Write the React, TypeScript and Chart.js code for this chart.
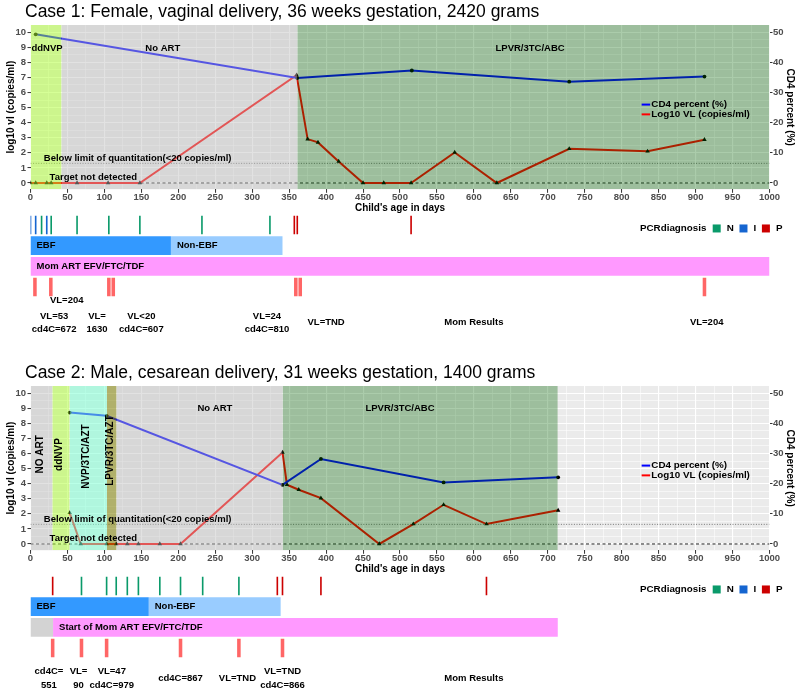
import React, { useEffect, useRef } from 'react';
import { Chart, registerables } from 'chart.js';

Chart.register(...registerables);

const FONT = '"Liberation Sans", Arial, Helvetica, sans-serif';
Chart.defaults.font.family = FONT;

// ---------- shared scales ----------
const X_MIN = 0;
const X_MAX = 1000;
const X_MINOR_STEP = 25;
const X_LABEL_STEP = 50;
const Y_MIN = -0.42;
const Y_MAX = 10.48;
const CD4_PER_LOG = 5;
const LOQ_LOG = Math.log10(20);
const LOQ_TEXT = 'Below limit of quantitation(<20 copies/ml)';
const TND_TEXT = 'Target not detected';
const TRACK_ROWS = ['PCR', 'Feeding', 'MomART', 'MomResult', 'Notes1', 'Notes2'];
const PCR_NAMES = ['N', 'I', 'P'];

// ---------- Case 1 ----------
const c1Title = 'Case 1: Female, vaginal delivery, 36 weeks gestation, 2420 grams';
const c1VlDays = [0, 7, 22, 28, 63, 105, 148, 360, 375, 389, 417, 450, 478, 515, 574, 631, 729, 835, 912];
const c1VlLog = [0, 0, 0, 0, 0, 0, 0, 7.15, 2.91, 2.69, 1.43, 0, 0, 0, 2.03, 0, 2.27, 2.1, 2.87];
const c1Cd4Days = [7, 361, 516, 729, 912];
const c1Cd4Pct = [49.3, 34.8, 37.3, 33.6, 35.3];
const c1RegionNames = ['ddNVP', 'No ART', 'LPVR/3TC/ABC'];
const c1RegionStart = [0, 42, 361];
const c1RegionEnd = [42, 361, 1000];
const c1PcrN = [15, 28, 63, 106, 148, 232, 324];
const c1PcrI = [0, 7, 22];
const c1PcrP = [357, 361, 515];
const c1FeedNames = ['EBF', 'Non-EBF'];
const c1FeedStart = [0, 190];
const c1FeedEnd = [190, 341];
const c1MomNames = ['Mom ART EFV/FTC/TDF'];
const c1MomStart = [0];
const c1MomEnd = [1000];
const c1MomResultDays = [6, 27.5, 106, 112, 359, 365, 912];
const c1NoteDays = [32, 90, 150, 320, 400, 600, 915];
const c1NoteText = [['VL=53', 'cd4C=672'], ['VL=', '1630'], ['VL<20', 'cd4C=607'], ['VL=24', 'cd4C=810'], ['VL=TND'], ['Mom Results'], ['VL=204']];
const c1UpperNoteDays = [49];
const c1UpperNoteText = ['VL=204'];

// ---------- Case 2 ----------
const c2Title = 'Case 2: Male, cesarean delivery, 31 weeks gestation, 1400 grams';
const c2VlDays = [53, 68, 103, 116, 131, 146, 175, 203, 341, 347, 363, 393, 472, 518, 559, 617, 714];
const c2VlLog = [2.07, 0, 0, 0, 0, 0, 0, 0, 6.07, 3.93, 3.6, 3.04, 0, 1.32, 2.6, 1.32, 2.23];
const c2Cd4Days = [53, 103, 341, 393, 559, 714];
const c2Cd4Pct = [43.6, 42.5, 19.6, 28.2, 20.4, 22.1];
const c2RegionNames = ['NO ART', 'ddNVP', 'NVP/3TC/AZT', 'LPVR/3TC/AZT', 'No ART', 'LPVR/3TC/ABC'];
const c2RegionStart = [0, 29.5, 53, 103.5, 116.5, 341];
const c2RegionEnd = [29.5, 53, 103.5, 116.5, 341, 713.5];
const c2PcrN = [69, 103, 116, 131, 146, 175, 203, 233, 282];
const c2PcrI: number[] = [];
const c2PcrP = [30, 334, 341, 393, 617];
const c2FeedNames = ['EBF', 'Non-EBF'];
const c2FeedStart = [0, 160];
const c2FeedEnd = [160, 338.5];
const c2MomNames = ['', 'Start of Mom ART EFV/FTC/TDF'];
const c2MomStart = [0, 30.5];
const c2MomEnd = [30.5, 713.5];
const c2MomResultDays = [30, 69, 103, 203, 282, 341];
const c2NoteDays = [25, 65, 110, 203, 280, 341, 600];
const c2NoteText = [['cd4C=', '551'], ['VL=', '90'], ['VL=47', 'cd4C=979'], ['cd4C=867'], ['VL=TND'], ['VL=TND', 'cd4C=866'], ['Mom Results']];
const c2UpperNoteDays: number[] = [];
const c2UpperNoteText: string[] = [];

// ---------- styles / layout (not data) ----------
const REGION_FILL: Record<string, string> = {
  'ddNVP': 'rgba(173,255,47,0.5)',
  'No ART': 'rgba(190,190,190,0.45)',
  'NO ART': 'rgba(190,190,190,0.45)',
  'NVP/3TC/AZT': 'rgba(127,255,212,0.55)',
  'LPVR/3TC/AZT': 'rgba(128,128,0,0.55)',
  'LPVR/3TC/ABC': 'rgba(0,100,0,0.33)',
};
const PCR_COLORS: Record<string, string> = { N: '#0A9A6A', I: '#1565D0', P: '#CC0000' };
const FEED_COLORS = ['#3399FF', '#99CCFF'];
const MOM_ART_COLOR = '#FF99FF';
const MOM_PRE_COLOR = '#D3D3D3';
const MOM_RESULT_COLOR = '#FF6666';

const case1Layout = {
  regionLabelDay: [22.3, 179, 676],
  regionLabelLevel: [8.94, 8.94, 8.94],
  regionLabelVertical: [false, false, false],
  noteCenterRow: 4.72,
  upperNoteRow: 3.66,
};
const case2Layout = {
  regionLabelDay: [13.7, 38.7, 75.8, 107.4, 249.5, 500],
  regionLabelLevel: [5.95, 5.93, 5.8, 6.2, 9.0, 9.0],
  regionLabelVertical: [true, true, true, true, false, false],
  noteCenterRow: 4.46,
  upperNoteRow: 3.66,
};

const case1 = {
  title: c1Title, vlDays: c1VlDays, vlLog: c1VlLog, cd4Days: c1Cd4Days, cd4Pct: c1Cd4Pct,
  regionNames: c1RegionNames, regionStart: c1RegionStart, regionEnd: c1RegionEnd,
  pcr: { N: c1PcrN, I: c1PcrI, P: c1PcrP } as Record<string, number[]>,
  feedNames: c1FeedNames, feedStart: c1FeedStart, feedEnd: c1FeedEnd,
  momNames: c1MomNames, momStart: c1MomStart, momEnd: c1MomEnd,
  momResultDays: c1MomResultDays, noteDays: c1NoteDays, noteText: c1NoteText,
  upperNoteDays: c1UpperNoteDays, upperNoteText: c1UpperNoteText,
  layout: case1Layout,
};
const case2 = {
  title: c2Title, vlDays: c2VlDays, vlLog: c2VlLog, cd4Days: c2Cd4Days, cd4Pct: c2Cd4Pct,
  regionNames: c2RegionNames, regionStart: c2RegionStart, regionEnd: c2RegionEnd,
  pcr: { N: c2PcrN, I: c2PcrI, P: c2PcrP } as Record<string, number[]>,
  feedNames: c2FeedNames, feedStart: c2FeedStart, feedEnd: c2FeedEnd,
  momNames: c2MomNames, momStart: c2MomStart, momEnd: c2MomEnd,
  momResultDays: c2MomResultDays, noteDays: c2NoteDays, noteText: c2NoteText,
  upperNoteDays: c2UpperNoteDays, upperNoteText: c2UpperNoteText,
  layout: case2Layout,
};

const isInt = (v: number) => Math.abs(v - Math.round(v)) < 1e-6;
const isMajorX = (v: number) => Math.abs(v / X_LABEL_STEP - Math.round(v / X_LABEL_STEP)) < 1e-6;

function mainDecor(c: any) {
  return {
    id: 'mainDecor',
    beforeDraw(chart: any) {
      const { ctx, chartArea: a } = chart;
      ctx.save();
      ctx.fillStyle = '#EBEBEB';
      ctx.fillRect(a.left, a.top, a.right - a.left, a.bottom - a.top);
      ctx.restore();
    },
    afterDatasetsDraw(chart: any) {
      const { ctx } = chart;
      const xs = chart.scales.x;
      const ys = chart.scales.y;
      ctx.save();
      ctx.fillStyle = '#000';
      ctx.textBaseline = 'middle';
      ctx.textAlign = 'center';
      c.regionNames.forEach((name: string, i: number) => {
        const x = xs.getPixelForValue(c.layout.regionLabelDay[i]);
        const y = ys.getPixelForValue(c.layout.regionLabelLevel[i]);
        if (c.layout.regionLabelVertical[i]) {
          ctx.font = `bold 10px ${FONT}`;
          ctx.save();
          ctx.translate(x, y);
          ctx.rotate(-Math.PI / 2);
          ctx.fillText(name, 0, 0);
          ctx.restore();
        } else {
          ctx.font = `bold 9.5px ${FONT}`;
          ctx.fillText(name, x, y);
        }
      });
      ctx.font = `bold 9.5px ${FONT}`;
      ctx.fillText(LOQ_TEXT, xs.getPixelForValue(145), ys.getPixelForValue(1.62));
      ctx.fillText(TND_TEXT, xs.getPixelForValue(85), ys.getPixelForValue(0.37));
      // legend
      const keys = [
        { text: 'CD4 percent (%)', color: '#0000FF', level: 5.2 },
        { text: 'Log10 VL (copies/ml)', color: '#FF0000', level: 4.55 },
      ];
      const kx1 = xs.getPixelForValue(827);
      const kx2 = xs.getPixelForValue(838.5);
      ctx.font = `bold 9.8px ${FONT}`;
      ctx.textAlign = 'left';
      keys.forEach((k) => {
        const y = ys.getPixelForValue(k.level);
        ctx.strokeStyle = k.color;
        ctx.lineWidth = 2;
        ctx.beginPath();
        ctx.moveTo(kx1, y);
        ctx.lineTo(kx2, y);
        ctx.stroke();
        ctx.fillStyle = '#000';
        ctx.fillText(k.text, kx2 + 1.2, y);
      });
      ctx.restore();
    },
    afterDraw(chart: any) {
      const { ctx } = chart;
      ctx.save();
      ctx.fillStyle = '#000';
      ctx.font = `17.5px ${FONT}`;
      ctx.textAlign = 'left';
      ctx.textBaseline = 'alphabetic';
      ctx.fillText(c.title, 25, 16.8);
      ctx.restore();
    },
  };
}

function mainConfig(c: any) {
  const regionSets = c.regionNames.map((name: string, i: number) => ({
    type: 'line',
    label: name,
    data: [{ x: c.regionStart[i], y: Y_MAX }, { x: c.regionEnd[i], y: Y_MAX }],
    yAxisID: 'y',
    borderColor: 'rgba(0,0,0,0)',
    borderWidth: 0,
    pointRadius: 0,
    fill: { value: Y_MIN },
    backgroundColor: REGION_FILL[name],
    order: 0,
  }));
  const datasets = [
    ...regionSets,
    {
      type: 'line',
      label: 'CD4 percent (%)',
      data: c.cd4Days.map((d: number, i: number) => ({ x: d, y: c.cd4Pct[i] })),
      yAxisID: 'y2',
      borderColor: '#0000FF',
      borderWidth: 2,
      pointStyle: 'circle',
      pointRadius: 1.9,
      pointBackgroundColor: '#000',
      pointBorderWidth: 0,
      fill: false,
      order: 1,
    },
    {
      type: 'line',
      label: 'Log10 VL (copies/ml)',
      data: c.vlDays.map((d: number, i: number) => ({ x: d, y: c.vlLog[i] })),
      yAxisID: 'y',
      borderColor: '#FF0000',
      borderWidth: 2,
      pointStyle: 'triangle',
      pointRadius: 2.6,
      pointBackgroundColor: '#000',
      pointBorderWidth: 0,
      fill: false,
      order: 2,
    },
    {
      type: 'line',
      label: 'LOQ',
      data: [{ x: X_MIN, y: LOQ_LOG }, { x: X_MAX, y: LOQ_LOG }],
      yAxisID: 'y',
      borderColor: '#555555',
      borderWidth: 0.8,
      borderDash: [1, 1.6],
      pointRadius: 0,
      fill: false,
      order: 3,
    },
    {
      type: 'line',
      label: 'TND',
      data: [{ x: X_MIN, y: 0 }, { x: X_MAX, y: 0 }],
      yAxisID: 'y',
      borderColor: '#222222',
      borderWidth: 1,
      borderDash: [3, 2.5],
      pointRadius: 0,
      fill: false,
      order: 4,
    },
  ];
  return {
    type: 'line',
    data: { datasets },
    options: {
      responsive: false,
      animation: false,
      events: [],
      layout: { padding: { top: 25, left: 0, right: 0, bottom: 0 }, autoPadding: false },
      plugins: { legend: { display: false }, tooltip: { enabled: false }, title: { display: false } },
      scales: {
        x: {
          type: 'linear',
          position: 'bottom',
          min: X_MIN,
          max: X_MAX,
          afterFit: (s: any) => { s.height = 25.7; },
          border: { display: false },
          ticks: {
            stepSize: X_MINOR_STEP,
            autoSkip: false,
            includeBounds: false,
            maxRotation: 0,
            minRotation: 0,
            padding: 0,
            color: '#4D4D4D',
            font: { size: 9.5, weight: 'bold', lineHeight: 1 },
            callback: (v: any) => (isMajorX(Number(v)) ? String(v) : ''),
          },
          grid: {
            color: '#FFFFFF',
            lineWidth: (ctx: any) => (ctx.tick && isMajorX(ctx.tick.value) ? 1.1 : 0.55),
            tickLength: 3.5,
            tickWidth: 1,
            tickColor: (ctx: any) => (ctx.tick && isMajorX(ctx.tick.value) ? '#333333' : 'rgba(0,0,0,0)'),
          },
          title: {
            display: true,
            text: "Child's age in days",
            color: '#000',
            font: { size: 10, weight: 'bold' },
            padding: { top: 0, bottom: 1 },
          },
        },
        y: {
          type: 'linear',
          position: 'left',
          min: Y_MIN,
          max: Y_MAX,
          afterFit: (s: any) => { s.width = 30.5; },
          border: { display: false },
          ticks: {
            stepSize: 0.5,
            autoSkip: false,
            includeBounds: false,
            padding: 1.5,
            color: '#4D4D4D',
            font: { size: 9.5, weight: 'bold' },
            callback: (v: any) => (isInt(Number(v)) ? String(Math.round(Number(v))) : ''),
          },
          grid: {
            color: '#FFFFFF',
            lineWidth: (ctx: any) => (ctx.tick && isInt(ctx.tick.value) ? 1.1 : 0.55),
            tickLength: 3,
            tickWidth: 1,
            tickColor: (ctx: any) => (ctx.tick && isInt(ctx.tick.value) ? '#333333' : 'rgba(0,0,0,0)'),
          },
          title: {
            display: true,
            text: 'log10 vl (copies/ml)',
            color: '#000',
            font: { size: 10, weight: 'bold' },
            padding: { top: 5.7, bottom: 0 },
          },
        },
        y2: {
          type: 'linear',
          position: 'right',
          min: Y_MIN * CD4_PER_LOG,
          max: Y_MAX * CD4_PER_LOG,
          afterFit: (s: any) => { s.width = 30.5; },
          border: { display: false },
          ticks: {
            stepSize: 10,
            autoSkip: false,
            includeBounds: false,
            padding: 0.5,
            color: '#4D4D4D',
            font: { size: 9.5, weight: 'bold' },
          },
          grid: { drawOnChartArea: false, drawTicks: true, tickLength: 3, tickWidth: 1, tickColor: '#333333' },
          title: {
            display: true,
            text: 'CD4 percent (%)',
            color: '#000',
            font: { size: 10, weight: 'bold' },
            padding: { top: 4.5, bottom: 0 },
          },
        },
      },
    },
    plugins: [mainDecor(c)],
  };
}

const PCR_HALF = 1.1;
const RESULT_HALF = 2.4;

function trackDecor(c: any) {
  return {
    id: 'trackDecor',
    afterDatasetsDraw(chart: any) {
      const { ctx, chartArea: a } = chart;
      const xs = chart.scales.x;
      const ys = chart.scales.y;
      ctx.save();
      ctx.fillStyle = '#000';
      ctx.textBaseline = 'middle';
      ctx.font = `bold 9.5px ${FONT}`;
      ctx.textAlign = 'left';
      c.feedNames.forEach((n: string, i: number) => {
        ctx.fillText(n, xs.getPixelForValue(c.feedStart[i]) + 6, ys.getPixelForValue(1));
      });
      c.momNames.forEach((n: string, i: number) => {
        if (n) ctx.fillText(n, xs.getPixelForValue(c.momStart[i]) + 6, ys.getPixelForValue(2));
      });
      ctx.textAlign = 'center';
      const yc = ys.getPixelForValue(c.layout.noteCenterRow);
      c.noteText.forEach((lines: string[], i: number) => {
        const x = xs.getPixelForValue(c.noteDays[i]);
        lines.forEach((t, j) => ctx.fillText(t, x, yc + (j - (lines.length - 1) / 2) * 13.3));
      });
      const yu = ys.getPixelForValue(c.layout.upperNoteRow);
      c.upperNoteText.forEach((t: string, i: number) => {
        ctx.fillText(t, xs.getPixelForValue(c.upperNoteDays[i]), yu);
      });
      // PCR legend
      const ly = ys.getPixelForValue(0.17);
      ctx.font = `bold 9.8px ${FONT}`;
      ctx.textAlign = 'left';
      ctx.fillText('PCRdiagnosis', a.right - 129.5, ly);
      let x = a.right - 56.8;
      PCR_NAMES.forEach((n) => {
        ctx.fillStyle = PCR_COLORS[n];
        ctx.fillRect(x, ly - 4, 8, 8);
        ctx.fillStyle = '#000';
        ctx.fillText(n, x + 14, ly);
        x = x + 14 + ctx.measureText(n).width + 5.7;
      });
      ctx.restore();
    },
  };
}

function trackConfig(c: any) {
  const bar = (label: string, row: string, spans: number[][], color: string) => ({
    label,
    data: spans.map((s) => ({ x: s, y: row })),
    backgroundColor: color,
    borderWidth: 0,
    grouped: false,
    barPercentage: 0.9,
    categoryPercentage: 1,
  });
  const datasets: any[] = [];
  PCR_NAMES.forEach((n) => {
    datasets.push(bar('PCR ' + n, 'PCR', c.pcr[n].map((d: number) => [d - PCR_HALF, d + PCR_HALF]), PCR_COLORS[n]));
  });
  c.feedNames.forEach((n: string, i: number) => {
    datasets.push(bar(n, 'Feeding', [[c.feedStart[i], c.feedEnd[i]]], FEED_COLORS[i]));
  });
  c.momNames.forEach((n: string, i: number) => {
    datasets.push(bar(n || 'pre', 'MomART', [[c.momStart[i], c.momEnd[i]]], n ? MOM_ART_COLOR : MOM_PRE_COLOR));
  });
  datasets.push(bar('Mom results', 'MomResult', c.momResultDays.map((d: number) => [d - RESULT_HALF, d + RESULT_HALF]), MOM_RESULT_COLOR));
  return {
    type: 'bar',
    data: { labels: TRACK_ROWS, datasets },
    options: {
      indexAxis: 'y',
      responsive: false,
      animation: false,
      events: [],
      layout: { padding: { left: 30.5, right: 30.5, top: 0.6, bottom: 1.2 }, autoPadding: false },
      plugins: { legend: { display: false }, tooltip: { enabled: false } },
      scales: {
        x: { type: 'linear', min: X_MIN, max: X_MAX, display: false },
        y: { type: 'category', display: false, offset: true },
      },
    },
    plugins: [trackDecor(c)],
  };
}

const makers = {
  main1: () => mainConfig(case1),
  track1: () => trackConfig(case1),
  main2: () => mainConfig(case2),
  track2: () => trackConfig(case2),
};

function ChartBox({ top, height, make }: { top: number; height: number; make: () => any }) {
  const ref = useRef<HTMLCanvasElement | null>(null);
  useEffect(() => {
    if (!ref.current) return;
    const chart = new Chart(ref.current, make());
    return () => chart.destroy();
  }, [make]);
  return (
    <canvas
      ref={ref}
      width={800}
      height={height}
      style={{ position: 'absolute', left: 0, top, width: 800, height, display: 'block' }}
    />
  );
}

export default function App() {
  return (
    <div style={{ position: 'absolute', left: 0, top: 0, width: 800, height: 694, background: '#FFFFFF', overflow: 'hidden' }}>
      <ChartBox top={0} height={215} make={makers.main1} />
      <ChartBox top={214} height={126} make={makers.track1} />
      <ChartBox top={361} height={215} make={makers.main2} />
      <ChartBox top={575} height={126} make={makers.track2} />
    </div>
  );
}
